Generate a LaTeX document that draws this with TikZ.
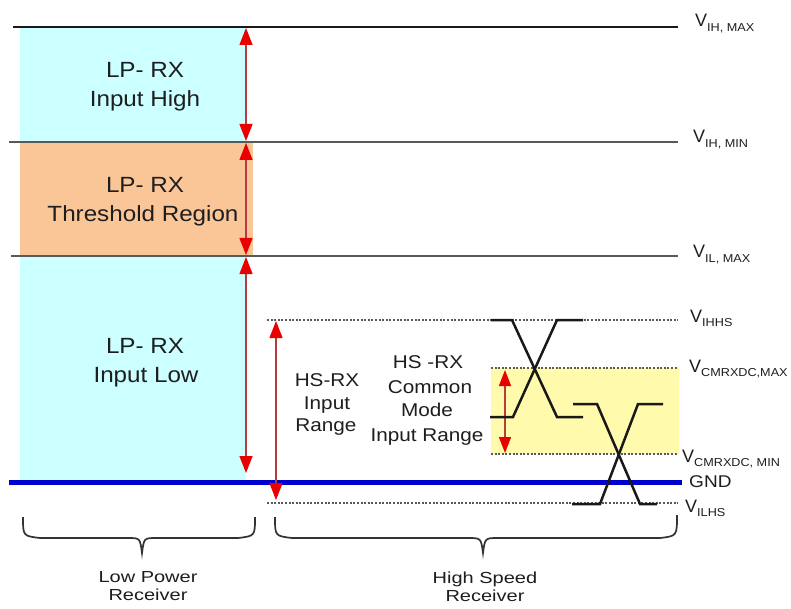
\documentclass[tikz,border=0pt]{standalone}
\usepackage{fontspec}
\setmainfont{Liberation Sans}
\newfontfamily\lpfont{Liberation Sans}[FakeStretch=1.1]
\newfontfamily\hsfont{Liberation Sans}[FakeStretch=1.12]
\newfontfamily\botfont{Liberation Sans}[FakeStretch=1.25]
\newfontfamily\subfont{Liberation Sans}[FakeStretch=1.1]
\newfontfamily\gndfont{Liberation Sans}[FakeStretch=1.12]
\usetikzlibrary{arrows.meta}
\definecolor{lpcyan}{RGB}{204,255,255}
\definecolor{lporange}{RGB}{250,198,152}
\definecolor{cmyellow}{RGB}{255,250,172}
\definecolor{gndblue}{RGB}{0,0,205}
\definecolor{arrowred}{RGB}{235,0,0}
\definecolor{shaftred}{RGB}{185,60,60}
\definecolor{txt}{RGB}{30,30,30}
\newcommand{\vlab}[1]{V\raisebox{-4.5pt}{\fontsize{11.5}{12}\subfont #1}}
\tikzset{
  levelline/.style={line width=2.2pt, draw=black!65},
  topline/.style={line width=2.2pt, draw=black!90},
  dotline/.style={line width=1.5pt, draw=black!65, dash pattern=on 2pt off 1.6pt},
  redarrow/.style={draw=shaftred, line width=1.4pt, >={Triangle[width=13pt,length=17pt,color=arrowred]}, <->},
  smallarrow/.style={draw=shaftred, line width=1.4pt, >={Triangle[width=12pt,length=16pt,color=arrowred]}, <->},
  wave/.style={line width=2.5pt, draw=black!90, line join=miter},
  bracepath/.style={line width=1.7pt, draw=black!80},
  lptext/.style={font=\fontsize{22}{26}\lpfont, text=txt, anchor=base, inner sep=0pt},
  hstext/.style={font=\fontsize{18.5}{22}\hsfont, text=txt, anchor=base, inner sep=0pt},
  bottext/.style={font=\fontsize{16}{18}\botfont, text=txt, anchor=base, inner sep=0pt},
  vtext/.style={font=\fontsize{18}{20}\selectfont, text=txt, anchor=base west, inner sep=0pt},
  gndtext/.style={font=\fontsize{17}{20}\gndfont, text=txt, anchor=base west, inner sep=0pt},
}
\begin{document}
\begin{tikzpicture}[x=1pt, y=-1pt]
\useasboundingbox (0,0) rectangle (791,609);
\fill[white] (0,0) rectangle (791,609);

% region boxes
\fill[lpcyan] (20,27) rectangle (245,141);
\fill[lporange] (20,142) rectangle (253,255);
\fill[lpcyan] (20,256) rectangle (245,482);
\fill[cmyellow] (491,368) rectangle (679,454);

% level line coordinates
\coordinate (ihmaxL) at (13,27);  \coordinate (ihmaxR) at (678,27);
\coordinate (ihminL) at (9,142);  \coordinate (ihminR) at (678,142);
\coordinate (ilmaxL) at (11,256); \coordinate (ilmaxR) at (678,256);
\coordinate (ihhsL) at (267,320); \coordinate (ihhsR) at (678,320);
\coordinate (cmmaxL) at (491,368); \coordinate (cmmaxR) at (678,368);
\coordinate (cmminL) at (491,454); \coordinate (cmminR) at (678,454);
\coordinate (gndL) at (9,482);    \coordinate (gndR) at (682,482);
\coordinate (ilhsL) at (267,503); \coordinate (ilhsR) at (678,503);

\draw[topline] (ihmaxL) -- (ihmaxR);
\draw[levelline] (ihminL) -- (ihminR);
\draw[levelline] (ilmaxL) -- (ilmaxR);
\draw[dotline] (ihhsL) -- (ihhsR);
\draw[dotline] (cmmaxL) -- (cmmaxR);
\draw[dotline] (cmminL) -- (cmminR);
\draw[dotline] (ilhsL) -- (ilhsR);
\draw[line width=5pt, draw=gndblue] (gndL) -- (gndR);

% arrows
\coordinate (a1t) at (246,28);  \coordinate (a1b) at (246,141);
\coordinate (a2t) at (246,143); \coordinate (a2b) at (246,255);
\coordinate (a3t) at (246,257); \coordinate (a3b) at (246,473);
\coordinate (a4t) at (276,321); \coordinate (a4b) at (276,500);
\coordinate (a5t) at (505,370); \coordinate (a5b) at (505,453);
\draw[redarrow] (a1t) -- (a1b);
\draw[redarrow] (a2t) -- (a2b);
\draw[redarrow] (a3t) -- (a3b);
\draw[redarrow] (a4t) -- (a4b);
\draw[smallarrow] (a5t) -- (a5b);

% waveforms
\draw[wave] (491,320) -- (512,320) -- (557,417) -- (583,417);
\draw[wave] (490,417) -- (513,417) -- (557,320) -- (583,320);
\draw[wave] (573,404) -- (597,404) -- (640,504) -- (657,504);
\draw[wave] (572,504) -- (600,504) -- (638,404) -- (663,404);

% braces
\draw[bracepath] (23,517) .. controls (23,536) .. (40,538) -- (128,538)
  .. controls (140,538) .. (142,553) .. controls (144,538) .. (156,538)
  -- (238,538) .. controls (255,536) .. (255,517);
\draw[bracepath] (275,517) .. controls (275,536) .. (292,538) -- (468,538)
  .. controls (481,538) .. (483,553) .. controls (485,538) .. (498,538)
  -- (660,538) .. controls (677,536) .. (677,515);

% region texts
\node[lptext] (lp1a) at (145,78) {LP- RX};
\node[lptext] (lp1b) at (145,107) {Input High};
\node[lptext] (lp2a) at (145,193) {LP- RX};
\node[lptext] (lp2b) at (143,222) {Threshold Region};
\node[lptext] (lp3a) at (145,353) {LP- RX};
\node[lptext] (lp3b) at (146,382) {Input Low};

\node[hstext] (hs1a) at (327,386) {HS-RX};
\node[hstext] (hs1b) at (327,409) {Input};
\node[hstext] (hs1c) at (326,431) {Range};

\node[hstext] (cm1) at (428,368) {HS -RX};
\node[hstext] (cm2) at (430,393) {Common};
\node[hstext] (cm3) at (427,416) {Mode};
\node[hstext] (cm4) at (427,441) {Input Range};

% level labels
\node[vtext] (vihmax) at (695,27) {\vlab{IH, MAX}};
\node[vtext] (vihmin) at (693,143) {\vlab{IH, MIN}};
\node[vtext] (vilmax) at (693,258) {\vlab{IL, MAX}};
\node[vtext] (vihhs) at (690,322) {\vlab{IHHS}};
\node[vtext] (vcmmax) at (689,372) {\vlab{CMRXDC,MAX}};
\node[vtext] (vcmmin) at (682,462) {\vlab{CMRXDC, MIN}};
\node[gndtext] (gnd) at (689,487) {GND};
\node[vtext] (vilhs) at (685,512) {\vlab{ILHS}};

% bottom labels
\node[bottext] (lpr1) at (148,582) {Low Power};
\node[bottext] (lpr2) at (148,600) {Receiver};
\node[bottext] (hsr1) at (485,583) {High Speed};
\node[bottext] (hsr2) at (485,601) {Receiver};
\end{tikzpicture}
\end{document}
